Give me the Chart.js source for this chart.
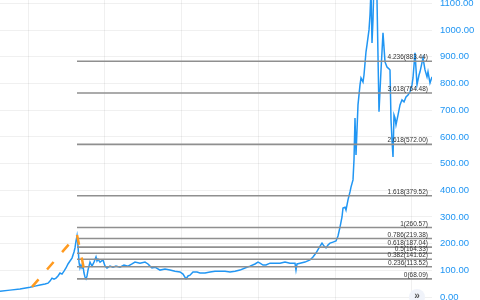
<!DOCTYPE html>
<html>
<head>
<meta charset="utf-8">
<script src="https://cdn.jsdelivr.net/npm/chart.js@4.4.0/dist/chart.umd.min.js"></script>
<style>
  html, body { margin: 0; padding: 0; background: #ffffff; }
  #wrap { width: 480px; height: 300px; }
</style>
</head>
<body>
<div id="wrap"><canvas id="priceChart"></canvas></div>
<script>
// price history (day index, close)
var days = [0,10,20,30,35,40,45,48,50,52,54,56,58,60,62,64,66,68,70,72,74,75,76,77,78,79,80,81,82,83,84,85,86,87,88,90,92,94,96,97,98,100,103,105,107,110,113,116,120,124,128,132,135,140,145,148,150,152,155,160,165,170,175,180,183,186,188,190,193,197,200,205,210,215,220,225,230,235,240,245,250,255,258,260,263,266,270,275,280,285,290,295,296,297,300,305,310,313,316,319,322,324,326,328,330,333,336,338,340,342,343,345,346,348,350,351,353,354,355,356,358,360,361,363,364,366,367,369,370,371,372,373,374,376,377,379,381,383,385,387,389,390,391,392,393,394,395,396,397,398,400,402,404,406,408,410,412,413,415,417,419,420,423,425,427,428,430,432];
var prices = [22,26,30,37,41,45,49,52,60,71,67,71,79,90,86,97,109,124,135,146,169,184,210,229,191,131,109,120,109,116,90,75,68,79,101,131,116,131,150,135,142,131,139,116,109,116,112,116,112,120,116,124,131,127,131,124,116,109,112,101,105,101,97,94,86,68,79,82,94,94,90,90,94,97,97,97,94,97,101,109,116,124,131,127,120,120,127,127,127,131,127,127,101,124,127,131,139,150,165,184,202,191,184,195,202,206,210,229,262,300,334,337,326,364,394,412,439,514,671,532,720,795,821,806,832,919,945,1001,1057,1151,952,1039,1189,1151,1113,694,850,990,881,862,855,851,664,589,525,682,671,645,664,682,720,739,731,750,757,769,795,821,915,795,832,844,896,851,825,844,802,825];

// swing points of the fib extension (A, B, C)
var swingDays = [32, 77, 86];
var swingPrices = [38, 233, 68];

// fib extension levels
var fibRatios = ['0', '0.236', '0.382', '0.5', '0.618', '0.786', '1', '1.618', '2.618', '3.618', '4.236'];
var fibPrices = [68.09, 113.52, 141.62, 164.33, 187.04, 219.38, 260.57, 379.52, 572.00, 764.48, 883.44];

// axis ticks
var priceTicks = [0, 100, 200, 300, 400, 500, 600, 700, 800, 900, 1000, 1100];
var gridDays = [28, 104, 181, 258, 335, 411];

var lastDay = 432;
var blue = '#2196f3';

var datasets = [];
fibPrices.forEach(function (p) {
	datasets.push({
		data: [{x: swingDays[1], y: p}, {x: lastDay, y: p}],
		borderColor: '#8f8f8f',
		borderWidth: 1.6,
		pointRadius: 0,
		order: 1
	});
});
datasets.push({
	data: swingDays.map(function (d, i) { return {x: d, y: swingPrices[i]}; }),
	borderColor: '#ff9a1f',
	borderWidth: 2.5,
	borderDash: [10, 13],
	pointRadius: 0,
	order: 0
});
datasets.push({
	data: days.map(function (d, i) { return {x: d, y: prices[i]}; }),
	borderColor: blue,
	borderWidth: 1.5,
	pointRadius: 0,
	tension: 0,
	order: 2
});

// labels on fib lines + the little scroll button
var fibLabels = {
	id: 'fibLabels',
	afterDatasetsDraw: function (chart) {
		var ctx = chart.ctx;
		var area = chart.chartArea;
		var ys = chart.scales.y;
		ctx.save();
		ctx.font = "6.5px 'Liberation Sans', Arial, sans-serif";
		ctx.fillStyle = '#333333';
		ctx.textAlign = 'right';
		ctx.textBaseline = 'bottom';
		fibPrices.forEach(function (p, i) {
			ctx.fillText(fibRatios[i] + '(' + p.toFixed(2) + ')', area.right - 4, ys.getPixelForValue(p) - 0.5);
		});
		// scroll-to-end button
		ctx.beginPath();
		ctx.arc(area.right - 15, 297, 8, 0, Math.PI * 2);
		ctx.fillStyle = '#f0f3fa';
		ctx.fill();
		ctx.fillStyle = '#555555';
		ctx.font = "bold 10px 'Liberation Sans', Arial, sans-serif";
		ctx.textAlign = 'center';
		ctx.textBaseline = 'middle';
		ctx.fillText('\u00bb', area.right - 15, 296);
		ctx.restore();
	}
};

var chart = new Chart(document.getElementById('priceChart'), {
	type: 'line',
	data: { datasets: datasets },
	options: {
		responsive: true,
		maintainAspectRatio: false,
		animation: false,
		layout: { padding: 0 },
		plugins: {
			legend: { display: false },
			tooltip: { enabled: false }
		},
		scales: {
			x: {
				type: 'linear',
				min: 0,
				max: lastDay,
				afterBuildTicks: function (scale) {
					scale.ticks = gridDays.map(function (d) { return {value: d}; });
				},
				afterFit: function (scale) {
					scale.height = 0;
					scale.paddingLeft = 0;
					scale.paddingRight = 0;
				},
				ticks: { display: false },
				grid: { color: 'rgba(0,0,0,0.06)', drawTicks: false },
				border: { display: false }
			},
			y: {
				position: 'right',
				min: -11,
				max: 1113,
				afterBuildTicks: function (scale) {
					scale.ticks = priceTicks.map(function (v) { return {value: v}; });
				},
				afterFit: function (scale) {
					scale.width = 48;
					scale.paddingTop = 0;
					scale.paddingBottom = 0;
				},
				ticks: {
					autoSkip: false,
					color: blue,
					padding: 8,
					font: { family: "'Liberation Sans', Arial, sans-serif", size: 9.5 },
					callback: function (v) { return v.toFixed(2); }
				},
				grid: { color: 'rgba(0,0,0,0.06)', drawTicks: false },
				border: { display: false }
			}
		}
	},
	plugins: [fibLabels]
});
</script>
</body>
</html>
